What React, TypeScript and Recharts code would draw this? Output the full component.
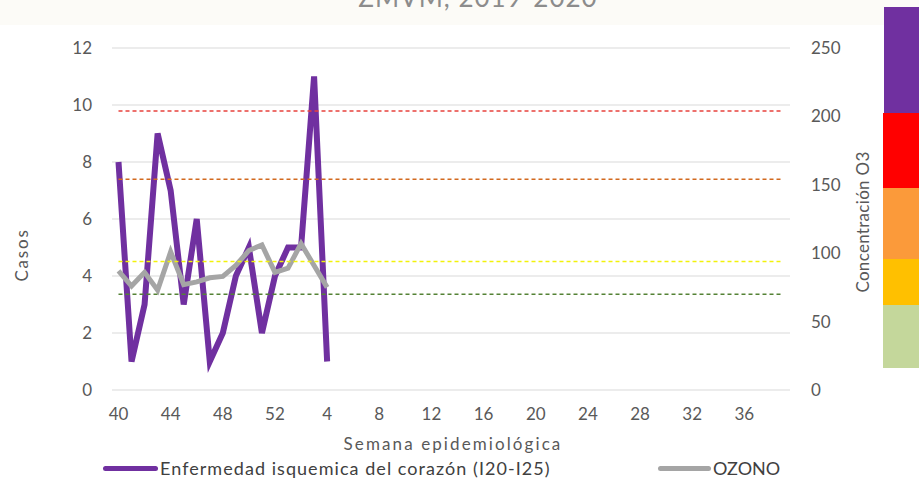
import React from "react";
import { ComposedChart, Line, XAxis, YAxis, CartesianGrid, ReferenceLine } from "recharts";

// semanas epidemiológicas 2019-2020
const semanas = [
  "40", "41", "42", "43", "44", "45", "46", "47", "48", "49", "50", "51", "52",
  "1", "2", "3", "4", "5", "6", "7", "8", "9", "10", "11", "12", "13", "14", "15",
  "16", "17", "18", "19", "20", "21", "22", "23", "24", "25", "26", "27", "28",
  "29", "30", "31", "32", "33", "34", "35", "36", "37", "38", "39",
];

const casos = [8, 1, 3, 9, 7, 3, 6, 1, 2, 4, 5, 2, 4, 5, 5, 11, 1];
const ozono = [87, 76, 86, 73, 101, 77, 79, 82, 83, 91, 102, 106, 86, 89, 107, 91, 75];

const umbralesO3 = [204, 154, 94, 70];
const colorUmbral = ["#e8413c", "#d2691e", "#f2f20a", "#548235"];

const ticksCasos = [0, 2, 4, 6, 8, 10, 12];
const ticksO3 = [0, 50, 100, 150, 200, 250];

const data = semanas.map((s, i) => ({
  semana: s,
  casos: i < casos.length ? casos[i] : null,
  ozono: i < ozono.length ? ozono[i] : null,
}));

const FONT = "Lato, 'Open Sans', sans-serif";
const tickStyle = { fontSize: 17, fill: "#595959", fontFamily: FONT };

export default function App() {
  return (
    <div
      style={{
        position: "absolute",
        left: 0,
        top: 0,
        width: 919,
        height: 480,
        background: "#ffffff",
        overflow: "hidden",
        fontFamily: FONT,
      }}
    >
      <div style={{ position: "absolute", left: 0, top: 0, width: 919, height: 25, background: "#fcfbf7" }} />
      <div
        style={{
          position: "absolute",
          left: 278,
          width: 400,
          top: -16,
          textAlign: "center",
          fontSize: 26,
          lineHeight: "26px",
          color: "#8c8c8c",
          letterSpacing: 1,
        }}
      >
        ZMVM, 2019-2020
      </div>

      <ComposedChart
        width={919}
        height={480}
        data={data}
        margin={{ top: 48, right: 0, bottom: 50, left: 0 }}
        style={{ position: "absolute", left: 0, top: 0 }}
      >
        <CartesianGrid yAxisId="left" vertical={false} stroke="#d9d9d9" />
        <XAxis
          dataKey="semana"
          interval={3}
          padding={{ left: 6.5, right: 6.5 }}
          axisLine={false}
          tickLine={false}
          tickSize={0}
          tickMargin={18}
          height={40}
          tick={tickStyle}
        />
        <YAxis
          yAxisId="left"
          domain={[0, 12]}
          ticks={ticksCasos}
          axisLine={false}
          tickLine={false}
          tickSize={0}
          tickMargin={20}
          width={112}
          tick={tickStyle}
        />
        <YAxis
          yAxisId="right"
          orientation="right"
          domain={[0, 250]}
          ticks={ticksO3}
          axisLine={false}
          tickLine={false}
          tickSize={0}
          tickMargin={21}
          width={129}
          tick={{ ...tickStyle, textAnchor: "start" }}
        />
        <Line
          yAxisId="left"
          dataKey="casos"
          stroke="#7030a0"
          strokeWidth={6}
          dot={false}
          type="linear"
          isAnimationActive={false}
        />
        <Line
          yAxisId="right"
          dataKey="ozono"
          stroke="#a5a5a5"
          strokeWidth={5}
          dot={false}
          type="linear"
          isAnimationActive={false}
        />
        {umbralesO3.map((v, i) => (
          <ReferenceLine
            key={v}
            yAxisId="right"
            segment={[
              { x: semanas[0], y: v },
              { x: semanas[semanas.length - 1], y: v },
            ]}
            stroke={colorUmbral[i]}
            strokeWidth={1.5}
            strokeDasharray="4 3"
          />
        ))}
      </ComposedChart>

      <div
        style={{
          position: "absolute",
          left: 300,
          width: 306,
          top: 434,
          textAlign: "center",
          fontSize: 17,
          lineHeight: "20px",
          color: "#595959",
          letterSpacing: 2.1,
        }}
      >
        Semana epidemiológica
      </div>
      <div
        style={{
          position: "absolute",
          left: 22,
          top: 255,
          transform: "translate(-50%, -50%) rotate(-90deg)",
          fontSize: 17,
          lineHeight: "20px",
          color: "#595959",
          whiteSpace: "nowrap",
          letterSpacing: 1.8,
        }}
      >
        Casos
      </div>
      <div
        style={{
          position: "absolute",
          left: 863,
          top: 222,
          transform: "translate(-50%, -50%) rotate(-90deg)",
          fontSize: 17,
          lineHeight: "20px",
          color: "#595959",
          whiteSpace: "nowrap",
          letterSpacing: 0.3,
        }}
      >
        Concentración O3
      </div>

      {/* leyenda */}
      <div style={{ position: "absolute", left: 103, top: 466, width: 55, height: 5, borderRadius: 3, background: "#7030a0" }} />
      <div
        style={{
          position: "absolute",
          left: 160,
          top: 457,
          fontSize: 18,
          lineHeight: "22px",
          color: "#404040",
          whiteSpace: "nowrap",
          letterSpacing: 1.05,
        }}
      >
        Enfermedad isquemica del corazón (I20-I25)
      </div>
      <div style={{ position: "absolute", left: 658, top: 466, width: 53, height: 5, borderRadius: 3, background: "#a5a5a5" }} />
      <div style={{ position: "absolute", left: 713, top: 457, fontSize: 18, lineHeight: "22px", color: "#404040" }}>
        OZONO
      </div>

      {/* escala de color del índice */}
      <div style={{ position: "absolute", left: 884, top: 7, width: 35, height: 106, background: "#7030a0" }} />
      <div style={{ position: "absolute", left: 883, top: 113, width: 36, height: 75, background: "#ff0000" }} />
      <div style={{ position: "absolute", left: 883, top: 188, width: 36, height: 71, background: "#fb9a3a" }} />
      <div style={{ position: "absolute", left: 883, top: 259, width: 36, height: 46, background: "#ffc000" }} />
      <div style={{ position: "absolute", left: 883, top: 305, width: 36, height: 63, background: "#c4d79b" }} />
    </div>
  );
}
